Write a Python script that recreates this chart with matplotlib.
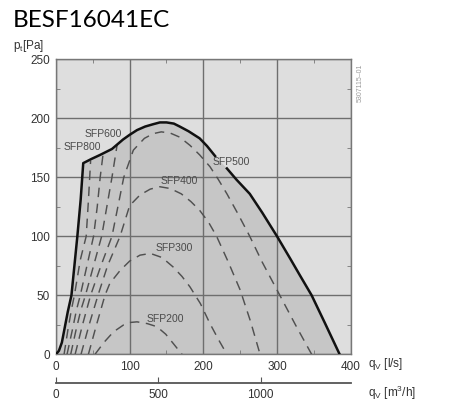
import matplotlib
matplotlib.use('Agg')
import matplotlib.pyplot as plt

plt.rcParams['font.family'] = ['Liberation Sans', 'DejaVu Sans']
plt.rcParams['mathtext.fontset'] = 'custom'
plt.rcParams['mathtext.rm'] = 'Liberation Sans'
plt.rcParams['mathtext.sf'] = 'Liberation Sans'
plt.rcParams['mathtext.it'] = 'Liberation Sans'

# envelope of the fan (solid), q in l/s, p in Pa
env_q = [0, 4, 8, 12, 16, 21, 25, 29, 33.5, 37, 48, 60, 76, 91, 100, 110, 121, 132, 141, 150,
         160, 168, 180, 195, 205, 216,
         232, 245, 263, 280, 300, 318, 331, 347, 365, 385]
env_p = [0, 3, 10, 23, 36, 50, 75, 100, 131, 162, 165.5, 169, 174, 182, 186, 190, 193, 195, 196.5, 196.5,
         195.5, 193, 189, 183, 176.5, 168,
         157.5, 148, 136, 120, 100, 81, 67, 50, 26.5, 0]
gap_start = 26   # envelope line is broken around the SFP500 label

# SFP curves (dashed)
a_q = [11, 16, 21, 25, 33, 41, 44, 47]
a_p = [0, 20, 38, 50, 80, 100, 130, 164]
b_q = [15, 22, 28, 33, 42, 51, 56, 60, 64]
b_p = [0, 20, 38, 50, 75, 100, 125, 150, 170]
c_q = [20, 27, 34, 40, 51, 62, 69, 76, 83]
c_p = [0, 20, 38, 50, 75, 100, 125, 150, 177.5]
sfp500_q = [26, 36, 47, 61, 76, 84, 92, 105, 120, 132, 143, 155, 168, 182, 195, 209, 220, 232, 247,
            263, 280, 300, 325, 347]
sfp500_p = [0, 25, 50, 75, 100, 125, 150, 173, 183, 187, 188.5, 187.5, 184, 177, 169, 159, 148.5, 136, 119,
            100, 78, 54.5, 25, 0]
sfp400_q = [34, 45, 57, 70, 87, 100, 114, 128, 141, 155, 170, 183, 195, 207, 218, 234, 250, 264, 277]
sfp400_p = [0, 25, 50, 75, 100, 126, 135, 140, 142, 140.5, 136, 129.5, 122, 112, 100, 78, 54.5, 28, 0]
sfp300_q = [44, 55, 66.5, 73, 87, 100, 114, 128, 144, 159, 171, 182, 196, 209, 221, 232]
sfp300_p = [0, 25, 50, 60, 71, 79, 84, 85.5, 82, 74, 66, 57, 43, 26, 12, 0]
sfp200_q = [53, 65, 78, 92, 101, 110, 124, 137, 149, 159, 171]
sfp200_p = [0, 10, 19, 25, 27, 27.5, 26, 23.4, 17, 9.3, 0]

curves = [(a_q, a_p), (b_q, b_p), (c_q, c_p), (sfp500_q, sfp500_p),
          (sfp400_q, sfp400_p), (sfp300_q, sfp300_p), (sfp200_q, sfp200_p)]

labels = ['SFP800', 'SFP600', 'SFP500', 'SFP400', 'SFP300', 'SFP200']
label_q = [36, 64, 238, 168, 160, 149]
label_p = [175.5, 187, 163, 147, 90.5, 30]

# second axis: l/s -> m3/h
q_max = 400
m3h_ticks = [0, 500, 1000]

fig = plt.figure(figsize=(4.5, 4.05), dpi=100)
fig.patch.set_facecolor('white')

ax = fig.add_axes([0.1244, 0.1252, 0.6549, 0.7284])
ax.set_facecolor('#dedede')
ax.set_xlim(0, q_max)
ax.set_ylim(0, 250)

ax.fill_between(env_q, env_p, 0, color='#c6c6c6', lw=0, zorder=1)
ax.plot(env_q[:gap_start], env_p[:gap_start], c='#111111', lw=1.8, zorder=4)
ax.plot(env_q[gap_start:], env_p[gap_start:], c='#111111', lw=1.8, zorder=4)

for cq, cp in curves:
    ax.plot(cq, cp, c='#505050', lw=1.05, ls=(0, (6.5, 4.5)), zorder=3)

for txt, lq, lp in zip(labels, label_q, label_p):
    ax.text(lq, lp, txt, ha='center', va='center', fontsize=7.5, color='#4a4a4a', zorder=5)

ax.set_xticks(range(0, 401, 100))
ax.set_yticks(range(0, 251, 50))
ax.set_xticks(range(50, 400, 100), minor=True)
ax.set_yticks(range(25, 250, 50), minor=True)
ax.grid(True, which='major', color='#6e6e6e', lw=1.0)
ax.tick_params(which='major', length=0, labelsize=8.5, labelcolor='#333333', pad=4.5)
ax.tick_params(which='minor', direction='in', length=3, color='#777777',
               top=True, right=True)
for s in ax.spines.values():
    s.set_color('#777777')
    s.set_linewidth(1.0)

# m3/h scale under the plot
ax2 = fig.add_axes([0.1244, 0.0536, 0.6549, 0.001])
ax2.set_xlim(0, q_max * 3.6)
ax2.set_xticks(m3h_ticks)
ax2.set_yticks([])
for k in ['top', 'left', 'right']:
    ax2.spines[k].set_visible(False)
ax2.spines['bottom'].set_color('#555555')
ax2.spines['bottom'].set_linewidth(1.3)
ax2.set_facecolor('none')
ax2.tick_params(direction='in', length=4, color='#555555', labelsize=8.5,
                labelcolor='#333333', pad=4)

# labels
fig.text(12.7 / 450, 1 - 26.7 / 405, 'BESF16041EC', fontsize=17.5, family=['Lato', 'DejaVu Sans'],
         va='baseline', ha='left', color='black')
fig.text(13 / 450, 1 - 46 / 405, r'p$_{\mathsf{t}}$[Pa]', fontsize=8.5, color='#333333',
         ha='left', va='center')
fig.text(368 / 450, 1 - 364 / 405, r'q$_{\mathsf{V}}$ [l/s]', fontsize=8.5, color='#333333',
         ha='left', va='center')
fig.text(368 / 450, 1 - 393 / 405, r'q$_{\mathsf{V}}$ [m$^{\mathsf{3}}$/h]', fontsize=8.5,
         color='#333333', ha='left', va='center')
fig.text(360 / 450, 1 - 83 / 405, '5307115\u201301', fontsize=5, color='#9a9a9a',
         rotation=90, ha='center', va='center')

fig.savefig('out.png', dpi=100)
